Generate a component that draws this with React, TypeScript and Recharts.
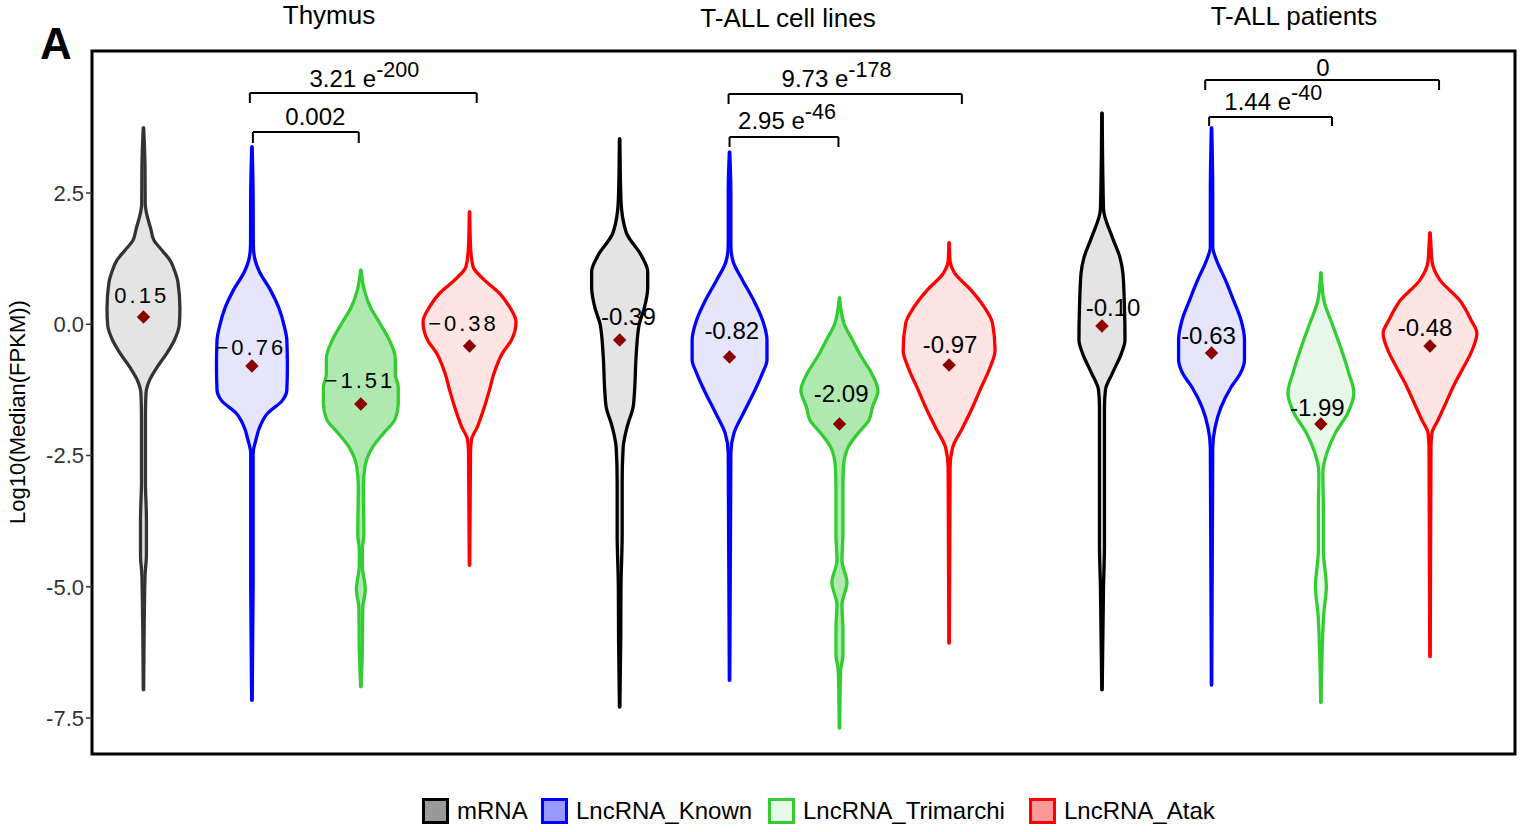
import React from 'react';
import { ComposedChart, Area, Scatter, XAxis, YAxis, ReferenceLine, ReferenceArea, Legend } from 'recharts';

const FONT = '"Liberation Sans", Arial, Helvetica, sans-serif';

// ---- categories / groups ----
const groups = ['Thymus', 'T-ALL cell lines', 'T-ALL patients'];
const categories = ['mRNA', 'LncRNA_Known', 'LncRNA_Trimarchi', 'LncRNA_Atak'];

// x position of each violin (4 per group)
const xPositions = [0, 0.994, 1.992, 2.988, 4.364, 5.371, 6.378, 7.383, 8.784, 9.788, 10.79, 11.79];

// ---- violin outlines: [log10 value, half width] ----
const thymusMRNA = [[3.74,0.002],[3.0,0.014],[2.3,0.016],[1.8,0.069],[1.6,0.096],[1.41,0.169],[1.22,0.243],[1.0,0.289],[0.8,0.316],[0.3,0.334],[0.0,0.329],[-0.3,0.284],[-0.55,0.215],[-0.82,0.124],[-1.07,0.055],[-1.32,0.023],[-1.8,0.018],[-3.0,0.018],[-3.7,0.027],[-4.4,0.027],[-4.8,0.014],[-6.96,0.002]];
const thymusKnown = [[3.38,0.002],[2.5,0.011],[1.5,0.013],[1.2,0.032],[1.0,0.069],[0.65,0.17],[0.33,0.243],[-0.05,0.298],[-0.3,0.32],[-0.8,0.325],[-1.25,0.32],[-1.45,0.28],[-1.7,0.142],[-1.97,0.069],[-2.2,0.037],[-2.46,0.011],[-5.0,0.011],[-7.16,0.002]];
const thymusTrimarchi = [[1.03,0.002],[0.65,0.032],[0.33,0.087],[0.02,0.174],[-0.3,0.261],[-0.65,0.316],[-0.95,0.316],[-1.2,0.343],[-1.5,0.343],[-1.8,0.316],[-2.08,0.206],[-2.35,0.105],[-2.72,0.037],[-3.1,0.023],[-4.0,0.028],[-4.3,0.014],[-4.6,0.014],[-5.05,0.041],[-5.4,0.018],[-6.2,0.014],[-6.9,0.002]];
const thymusAtak = [[2.14,0.002],[1.5,0.009],[1.1,0.032],[0.85,0.133],[0.6,0.27],[0.33,0.367],[0.05,0.426],[-0.3,0.385],[-0.55,0.302],[-0.93,0.225],[-1.25,0.183],[-1.57,0.137],[-1.95,0.073],[-2.2,0.018],[-2.45,0.009],[-4.59,0.002]];

const cellMRNA = [[3.53,0.002],[2.36,0.012],[1.75,0.06],[1.3,0.201],[1.0,0.257],[0.7,0.257],[0.3,0.225],[0.0,0.179],[-0.6,0.151],[-1.25,0.137],[-1.57,0.124],[-1.95,0.069],[-2.35,0.032],[-3.0,0.023],[-4.0,0.023],[-5.0,0.012],[-6.0,0.01],[-7.29,0.002]];
const cellKnown = [[3.28,0.002],[2.5,0.012],[1.5,0.012],[1.2,0.032],[0.84,0.119],[0.46,0.22],[0.08,0.302],[-0.3,0.343],[-0.68,0.343],[-0.93,0.302],[-1.31,0.22],[-1.69,0.128],[-2.07,0.041],[-2.45,0.012],[-6.78,0.002]];
const cellTrimarchi = [[0.5,0.002],[0.02,0.041],[-0.3,0.119],[-0.62,0.201],[-0.93,0.293],[-1.26,0.353],[-1.58,0.302],[-1.83,0.27],[-2.08,0.169],[-2.35,0.078],[-2.72,0.037],[-3.1,0.032],[-4.0,0.032],[-4.5,0.023],[-4.92,0.069],[-5.35,0.023],[-5.8,0.032],[-6.3,0.032],[-6.6,0.011],[-7.69,0.002]];
const cellAtak = [[1.55,0.002],[1.2,0.009],[0.98,0.05],[0.65,0.201],[0.33,0.321],[0.02,0.398],[-0.5,0.421],[-0.82,0.376],[-1.25,0.284],[-1.58,0.215],[-1.97,0.124],[-2.35,0.032],[-2.73,0.009],[-6.07,0.002]];

const patientMRNA = [[4.02,0.002],[2.2,0.014],[1.65,0.096],[1.27,0.165],[0.97,0.192],[0.33,0.206],[-0.3,0.211],[-0.55,0.179],[-0.93,0.096],[-1.25,0.032],[-1.57,0.023],[-3.0,0.023],[-4.2,0.023],[-5.0,0.014],[-6.96,0.002]];
const patientKnown = [[3.74,0.002],[2.5,0.011],[1.47,0.011],[1.22,0.046],[0.84,0.128],[0.46,0.201],[0.08,0.27],[-0.3,0.302],[-0.68,0.302],[-0.93,0.266],[-1.2,0.179],[-1.58,0.087],[-1.97,0.032],[-2.35,0.011],[-6.87,0.002]];
const patientTrimarchi = [[0.98,0.002],[0.46,0.027],[0.02,0.101],[-0.43,0.179],[-0.93,0.256],[-1.31,0.302],[-1.69,0.247],[-2.07,0.133],[-2.45,0.055],[-2.83,0.018],[-3.5,0.023],[-4.3,0.023],[-5.0,0.05],[-5.5,0.027],[-6.2,0.012],[-7.2,0.002]];
const patientAtak = [[1.74,0.002],[1.5,0.009],[1.2,0.018],[0.84,0.092],[0.46,0.27],[0.08,0.376],[-0.17,0.43],[-0.5,0.385],[-0.82,0.307],[-1.12,0.229],[-1.45,0.156],[-1.83,0.073],[-2.07,0.018],[-2.35,0.009],[-6.33,0.002]];

const violins = [thymusMRNA, thymusKnown, thymusTrimarchi, thymusAtak, cellMRNA, cellKnown, cellTrimarchi, cellAtak, patientMRNA, patientKnown, patientTrimarchi, patientAtak];

// ---- medians ----
const medianMarker = [0.138, -0.795, -1.519, -0.414, -0.300, -0.624, -1.90, -0.776, -0.033, -0.548, -1.90, -0.414];
const medianText = ['0.15', '\u22120.76', '\u22121.51', '\u22120.38', '-0.39', '-0.82', '-2.09', '-0.97', '-0.10', '-0.63', '-1.99', '-0.48'];
const medianTextX = [-0.016, 0.984, 1.984, 2.933, 4.444, 5.391, 6.394, 7.392, 8.885, 9.760, 10.758, 11.745];
const medianTextY = [0.41, -0.586, -1.222, -0.123, -0.014, -0.287, -1.474, -0.539, 0.157, -0.376, -1.748, -0.224];

// ---- significance brackets ----
const bracketLeft = [0.975, 1.003, 5.362, 5.371, 9.73, 9.766];
const bracketRight = [3.054, 1.973, 7.5, 6.369, 11.873, 10.892];
const bracketTop = [4.405, 3.662, 4.386, 3.567, 4.652, 3.948];
const bracketFoot = [4.214, 3.452, 4.195, 3.376, 4.462, 3.776];
const pBase = ['3.21 e', '0.002', '9.73 e', '2.95 e', '0', '1.44 e'];
const pExp = ['-200', '', '-178', '-46', '', '-40'];
const pX = [2.024, 1.575, 6.351, 5.897, 10.808, 10.353];
const pY = [4.519, 3.795, 4.519, 3.719, 4.729, 4.081];

// ---- axis ----
const yTicks = [-7.5, -5, -2.5, 0, 2.5];
const X_DOMAIN = [-0.4716, 12.569];
const Y_DOMAIN = [-8.186, 5.205];

// ---- styles ----
const strokeColors = ['#333333', '#0000ff', '#33cc33', '#ff0000', '#000000', '#0000ff', '#33cc33', '#ff0000', '#000000', '#0000ff', '#33cc33', '#ff0000'];
const fillColors = ['#e4e4e4', '#e5e5fc', '#afe9af', '#ffe4e4', '#e4e4e4', '#e5e5fc', '#afe9af', '#ffe4e4', '#e4e4e4', '#e5e5fc', '#e8f8e8', '#ffe4e4'];
const legendFills = ['#999999', '#9999ff', '#e6fae6', '#ff9999'];
const legendStrokes = ['#000000', '#0000ff', '#33cc33', '#ff0000'];
const legendLeft = [422, 541, 768, 1029];

// ---- derived tables ----
const chartRows = violins.flatMap((knots, i) =>
  knots.map(([y, w]) => ({ y, ['v' + i]: [xPositions[i] - w, xPositions[i] + w] }))
);
const accessors = violins.map((_, i) => (d: any) => (d['v' + i] ? d['v' + i] : [null, null]));
const medianRows = xPositions.map((x, i) => ({ x, y: medianMarker[i] }));
const medianLabelRows = medianText.map((t, i) => ({ x: medianTextX[i], y: medianTextY[i], text: t, idx: i }));
const pRows = pBase.map((b, i) => ({ x: pX[i], y: pY[i], base: b, exp: pExp[i] }));

const Diamond = (props: any) => {
  const { cx, cy } = props;
  if (cx == null || cy == null) return null;
  const r = 6.7;
  return <path d={`M${cx},${cy - r}L${cx + r},${cy}L${cx},${cy + r}L${cx - r},${cy}Z`} fill="#8b0000" />;
};

const MedianLabel = (props: any) => {
  const { cx, cy, payload } = props;
  if (cx == null || cy == null) return null;
  const thymus = payload.idx < 4;
  return (
    <text x={cx} y={cy} textAnchor="middle" fontFamily={FONT} fontSize={thymus ? 22 : 24}
      style={thymus ? { letterSpacing: '3px' } : undefined} fill="#000">
      {payload.text}
    </text>
  );
};

const PLabel = (props: any) => {
  const { cx, cy, payload } = props;
  if (cx == null || cy == null) return null;
  return (
    <text x={cx} y={cy} textAnchor="middle" fontFamily={FONT} fontSize={24} fill="#000">
      {payload.base}
      {payload.exp ? <tspan dy={-10.5} fontSize={21.5}>{payload.exp}</tspan> : null}
    </text>
  );
};

const LegendContent = () => (
  <div style={{ position: 'relative', width: 1527, height: 34 }}>
    {categories.map((c, i) => (
      <div key={c} style={{ position: 'absolute', left: legendLeft[i], top: 0, height: 34, display: 'flex', alignItems: 'center' }}>
        <span style={{ display: 'inline-block', boxSizing: 'border-box', width: 27, height: 26, border: `3px solid ${legendStrokes[i]}`, background: legendFills[i] }} />
        <span style={{ marginLeft: 8, fontSize: 24, fontFamily: FONT, color: '#000', lineHeight: '34px', whiteSpace: 'nowrap' }}>{c}</span>
      </div>
    ))}
  </div>
);

const groupTitleX = [329, 788, 1294];
const groupTitleY = [24, 27, 25];

export default function App() {
  return (
    <div style={{ position: 'absolute', left: 0, top: 0, width: 1527, height: 832, background: '#fff' }}>
      <ComposedChart
        width={1527}
        height={832}
        layout="vertical"
        data={chartRows}
        margin={{ top: 51, right: 12, bottom: 78, left: 32 }}
      >
        <XAxis type="number" dataKey="x" domain={X_DOMAIN} allowDataOverflow hide />
        <YAxis
          type="number"
          dataKey="y"
          domain={Y_DOMAIN}
          reversed
          allowDataOverflow
          ticks={yTicks}
          interval={0}
          width={60}
          axisLine={false}
          tickLine={{ stroke: '#333', strokeWidth: 1.5 }}
          tickSize={6}
          tickMargin={2}
          tickFormatter={(v: number) => v.toFixed(1)}
          tick={{ fill: '#333', fontSize: 22, fontFamily: FONT }}
        />
        {violins.map((_, i) => (
          <Area
            key={'violin' + i}
            type="monotone"
            dataKey={accessors[i]}
            name={categories[i % 4]}
            stroke={strokeColors[i]}
            strokeWidth={3.3}
            strokeLinecap="round"
            strokeLinejoin="round"
            fill={fillColors[i]}
            fillOpacity={1}
            connectNulls
            dot={false}
            activeDot={false}
            legendType="none"
            isAnimationActive={false}
          />
        ))}
        {bracketLeft.map((l, i) => (
          <ReferenceLine key={'bh' + i} segment={[{ x: l, y: bracketTop[i] }, { x: bracketRight[i], y: bracketTop[i] }]} stroke="#000" strokeWidth={2} ifOverflow="visible" />
        ))}
        {bracketLeft.map((l, i) => (
          <ReferenceLine key={'bl' + i} segment={[{ x: l, y: bracketTop[i] }, { x: l, y: bracketFoot[i] }]} stroke="#000" strokeWidth={2} ifOverflow="visible" />
        ))}
        {bracketRight.map((r, i) => (
          <ReferenceLine key={'br' + i} segment={[{ x: r, y: bracketTop[i] }, { x: r, y: bracketFoot[i] }]} stroke="#000" strokeWidth={2} ifOverflow="visible" />
        ))}
        <Scatter data={medianRows} shape={Diamond} legendType="none" isAnimationActive={false} />
        <Scatter data={medianLabelRows} shape={MedianLabel} legendType="none" isAnimationActive={false} />
        <Scatter data={pRows} shape={PLabel} legendType="none" isAnimationActive={false} />
        <ReferenceArea x1={X_DOMAIN[0]} x2={X_DOMAIN[1]} y1={Y_DOMAIN[0]} y2={Y_DOMAIN[1]} fill="none" fillOpacity={0} stroke="#000" strokeWidth={3} ifOverflow="visible" />
        <Legend
          layout="horizontal"
          verticalAlign="middle"
          align="center"
          content={LegendContent}
          wrapperStyle={{ top: 794, left: 0, width: 1527, height: 34 }}
        />
      </ComposedChart>
      <svg width={1527} height={832} style={{ position: 'absolute', left: 0, top: 0, pointerEvents: 'none' }}>
        <text x={40} y={59} fontFamily={FONT} fontWeight="bold" fontSize={44} fill="#000">A</text>
        {groups.map((g, i) => (
          <text key={g} x={groupTitleX[i]} y={groupTitleY[i]} textAnchor="middle" fontFamily={FONT} fontSize={26} fill="#000">{g}</text>
        ))}
        <text x={25} y={412} transform="rotate(-90 25 412)" textAnchor="middle" fontFamily={FONT} fontSize={22} fill="#000">Log10(Median(FPKM))</text>
      </svg>
    </div>
  );
}
